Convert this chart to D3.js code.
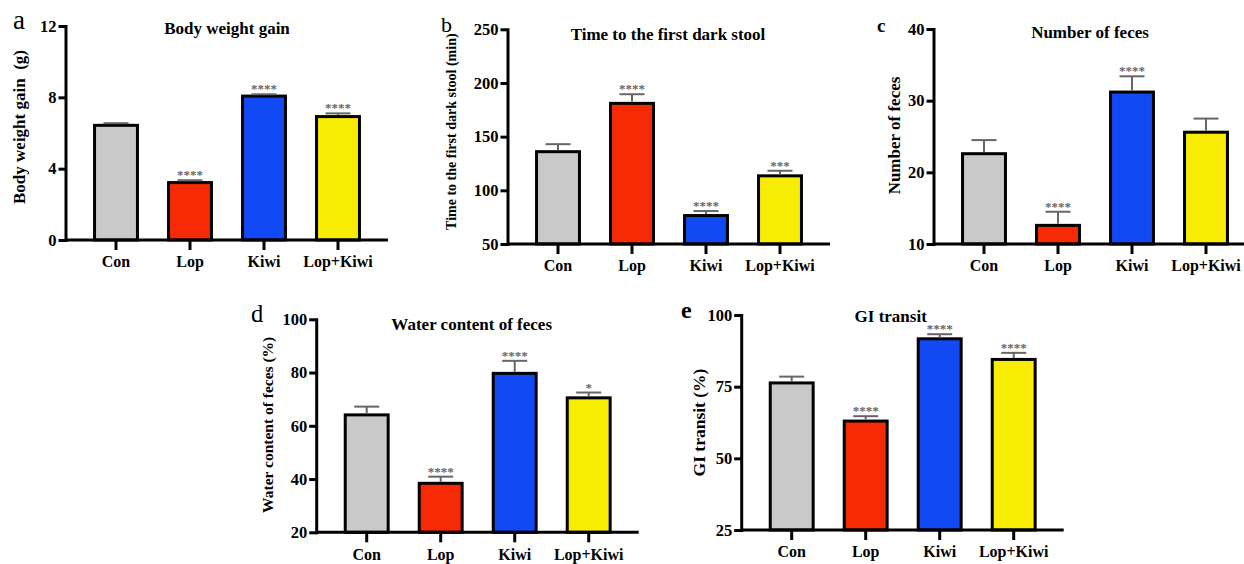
<!DOCTYPE html>
<html>
<head>
<meta charset="utf-8">
<script src="https://cdn.jsdelivr.net/npm/d3@7"></script>
<style>
  body { margin: 0; background: #fff; }
  svg { display: block; }
  text { font-family: "Liberation Serif", "Times New Roman", serif; }
</style>
</head>
<body>
<svg id="fig" width="1244" height="564"></svg>
<script>
// groups on every x axis
var groups = ["Con", "Lop", "Kiwi", "Lop+Kiwi"];
var barColors = ["#c9c9c9", "#f72a06", "#1149f5", "#f8ec04"];

// a - body weight gain (g)
var weightGain = [6.43, 3.22, 8.07, 6.92];
var weightGainErr = [0.12, 0.13, 0.1, 0.18];
var weightGainStars = ["", "****", "****", "****"];
var weightGainTicks = [0, 4, 8, 12];

// b - time to first dark stool (min)
var darkStool = [136, 181, 76.5, 113.5];
var darkStoolErr = [7, 8.5, 4.2, 4.7];
var darkStoolStars = ["", "****", "****", "***"];
var darkStoolTicks = [50, 100, 150, 200, 250];

// c - number of feces
var fecesCount = [22.6, 12.6, 31.2, 25.6];
var fecesCountErr = [1.9, 1.9, 2.2, 1.9];
var fecesCountStars = ["", "****", "****", ""];
var fecesCountTicks = [10, 20, 30, 40];

// d - water content of feces (%)
var waterContent = [64.1, 38.4, 79.7, 70.5];
var waterContentErr = [3.1, 2.5, 4.7, 2.0];
var waterContentStars = ["", "****", "****", "*"];
var waterContentTicks = [20, 40, 60, 80, 100];

// e - GI transit (%)
var giTransit = [76.3, 63.0, 91.7, 84.5];
var giTransitErr = [2.2, 1.7, 1.6, 2.3];
var giTransitStars = ["", "****", "****", "****"];
var giTransitTicks = [25, 50, 75, 100];

var svg = d3.select("#fig");

function drawPanel(p) {
  var g = svg.append("g");
  var axisX = p.first - 50.5;
  var xEnd = Math.min(p.first + 272, 1246);

  var x = d3.scaleBand()
    .domain(groups)
    .range([p.first - 37, p.first - 37 + 296])
    .paddingInner(0.42)
    .paddingOuter(0.21);

  var y = d3.scaleLinear()
    .domain([p.ticks[0], p.ticks[p.ticks.length - 1]])
    .range([p.bottom, p.top]);

  // bars
  g.selectAll("rect.bar")
    .data(p.values)
    .enter().append("rect")
    .attr("class", "bar")
    .attr("x", function(d, i) { return x(groups[i]); })
    .attr("width", x.bandwidth())
    .attr("y", function(d) { return y(d); })
    .attr("height", function(d) { return p.bottom - y(d); })
    .attr("fill", function(d, i) { return barColors[i]; })
    .attr("stroke", "#000")
    .attr("stroke-width", 3);

  // error bars (upper only)
  var err = g.append("g")
    .attr("stroke", "#666")
    .attr("stroke-width", 2)
    .attr("fill", "none");
  p.values.forEach(function(v, i) {
    var cx = x(groups[i]) + x.bandwidth() / 2;
    var top = y(v + p.errs[i]);
    err.append("line")
      .attr("x1", cx).attr("x2", cx)
      .attr("y1", y(v) - 1.5).attr("y2", top);
    err.append("line")
      .attr("x1", cx - 12.5).attr("x2", cx + 12.5)
      .attr("y1", top).attr("y2", top);
    if (p.stars[i]) {
      g.append("text")
        .attr("x", cx)
        .attr("y", top - 1)
        .attr("text-anchor", "middle")
        .attr("fill", "#666")
        .attr("font-size", 13)
        .attr("font-weight", "bold")
        .text(p.stars[i]);
    }
  });

  // y axis
  var ya = g.append("g")
    .attr("transform", "translate(" + axisX + ",0)")
    .call(d3.axisLeft(y).tickValues(p.ticks).tickSize(7).tickSizeOuter(0).tickPadding(2));
  ya.select(".domain").attr("stroke-width", 3).attr("stroke-linecap", "square");
  ya.selectAll(".tick line").attr("stroke-width", 3);
  ya.selectAll(".tick text")
    .attr("font-size", 16.5)
    .attr("font-weight", "bold")
    .attr("fill", "#000")
    .style("font-family", "Liberation Serif");

  // x axis
  var xa = g.append("g")
    .attr("transform", "translate(0," + p.bottom + ")")
    .call(d3.axisBottom(x).tickSize(10).tickPadding(6));
  xa.select(".domain").remove();
  xa.selectAll(".tick line").attr("stroke-width", 3);
  xa.selectAll(".tick text")
    .attr("font-size", 16)
    .attr("font-weight", "bold")
    .attr("fill", "#000")
    .style("font-family", "Liberation Serif");
  g.append("line")
    .attr("x1", axisX).attr("x2", xEnd)
    .attr("y1", p.bottom).attr("y2", p.bottom)
    .attr("stroke", "#000")
    .attr("stroke-width", 3);

  // title
  g.append("text")
    .attr("x", p.first + p.titleDx)
    .attr("y", p.top + p.titleDy)
    .attr("text-anchor", "middle")
    .attr("font-size", 17)
    .attr("font-weight", "bold")
    .text(p.title);

  // y label
  g.append("text")
    .attr("transform", "translate(" + (axisX - p.labelDx) + "," + ((p.top + p.bottom) / 2 + p.labelDy) + ") rotate(-90)")
    .attr("text-anchor", "middle")
    .attr("font-size", p.labelSize)
    .attr("font-weight", "bold")
    .style("white-space", "pre")
    .text(p.ylabel);

  // panel letter
  g.append("text")
    .attr("x", p.letterX)
    .attr("y", p.top + 3)
    .attr("font-size", p.letterSize)
    .attr("font-weight", p.letterBold ? "bold" : "normal")
    .text(p.letter);
}

drawPanel({ letter: "a", letterX: 13, letterSize: 27, title: "Body weight gain",
  ylabel: "Body weight gain  (g)", labelSize: 17, labelDx: 41, labelDy: -6, titleDx: 111, titleDy: 8,
  values: weightGain, errs: weightGainErr, stars: weightGainStars, ticks: weightGainTicks,
  first: 116, top: 26, bottom: 240 });

drawPanel({ letter: "b", letterX: 441, letterSize: 22, title: "Time to the first dark stool",
  ylabel: "Time to the first dark stool (min)", labelSize: 14, labelDx: 52, labelDy: -5, titleDx: 110, titleDy: 11,
  values: darkStool, errs: darkStoolErr, stars: darkStoolStars, ticks: darkStoolTicks,
  first: 558, top: 29.3, bottom: 244 });

drawPanel({ letter: "c", letterX: 877, letterSize: 19, letterBold: true, title: "Number of feces",
  ylabel: "Number of feces", labelSize: 17, labelDx: 34, labelDy: -1, titleDx: 106, titleDy: 9,
  values: fecesCount, errs: fecesCountErr, stars: fecesCountStars, ticks: fecesCountTicks,
  first: 984, top: 29, bottom: 244 });

drawPanel({ letter: "d", letterX: 251, letterSize: 24.5, title: "Water content of feces",
  ylabel: "Water content of feces (%)", labelSize: 15.5, labelDx: 43, labelDy: -1, titleDx: 105, titleDy: 11,
  values: waterContent, errs: waterContentErr, stars: waterContentStars, ticks: waterContentTicks,
  first: 366.7, top: 319.3, bottom: 532.3 });

drawPanel({ letter: "e", letterX: 681, letterSize: 24, letterBold: true, title: "GI transit",
  ylabel: "GI transit (%)", labelSize: 17.5, labelDx: 36, labelDy: 0, titleDx: 99, titleDy: 7,
  values: giTransit, errs: giTransitErr, stars: giTransitStars, ticks: giTransitTicks,
  first: 791.7, top: 315, bottom: 530 });
</script>
</body>
</html>
